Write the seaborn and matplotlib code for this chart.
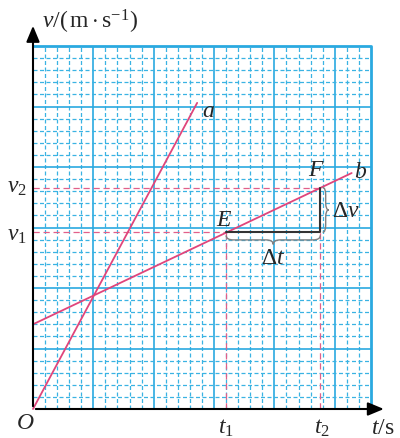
import numpy as np
import pandas as pd
import seaborn as sns
import matplotlib.pyplot as plt
from matplotlib.path import Path
from matplotlib.patches import PathPatch

# values in grid cells (1 cell = one small square)
a_t = [0, 13.6]
a_v = [0, 25.3]
b_t = [0, 26.4]
b_v = [7.0, 19.5]

t1, t2 = 16.0, 23.8
v1, v2 = 14.6, 18.3

grid_w, grid_h = 28, 30
major_step = 5

pink = '#e0457b'
pink_dash = '#e2608a'
cyan = '#2aa9e0'
cyan_minor = '#3ab3e3'

sns.set_style('white')
plt.rcParams['font.family'] = ['Liberation Serif', 'DejaVu Serif']
plt.rcParams['mathtext.fontset'] = 'custom'
plt.rcParams['mathtext.rm'] = 'Liberation Serif'
plt.rcParams['mathtext.it'] = 'Liberation Serif:italic'

fig = plt.figure(figsize=(4, 4.39), dpi=100)
ax = fig.add_axes([0, 0, 1, 1])
px, py = 12.07, 12.1  # pixels per cell
ax.set_xlim(-33 / px, (400 - 33) / px)
ax.set_ylim(-(439 - 410) / py, 410 / py)
ax.set_axis_off()

# grid paper
minor_ls = (0, (3.2, 2.0))
for i in range(1, grid_w):
    if i % major_step == 0:
        ax.vlines(i, 0, grid_h, color=cyan, lw=1.2, zorder=1)
    else:
        ax.vlines(i, 0, grid_h, color=cyan_minor, lw=0.9, linestyles=minor_ls, zorder=1)
for j in range(1, grid_h):
    if j % major_step == 0:
        ax.hlines(j, 0, grid_w, color=cyan, lw=1.2, zorder=1)
    else:
        ax.hlines(j, 0, grid_w, color=cyan_minor, lw=0.9, linestyles=minor_ls, zorder=1)
ax.plot([0, grid_w, grid_w], [grid_h, grid_h, 0], color=cyan, lw=2, zorder=1)

# helper dashed lines
dash_kw = dict(color=pink_dash, lw=0.9, ls=(0, (5, 3)), zorder=2)
ax.plot([0, t1], [v1, v1], **dash_kw)
ax.plot([0, t2], [v2, v2], **dash_kw)
ax.plot([t1, t1], [0, v1], **dash_kw)
ax.plot([t2, t2], [0, v2], **dash_kw)

# the two v-t lines
sns.lineplot(x=a_t, y=a_v, ax=ax, color=pink, lw=1.3, zorder=3)
sns.lineplot(x=b_t, y=b_v, ax=ax, color=pink, lw=1.3, zorder=3)

# right angle E -> corner -> F
ax.plot([t1, t2, t2], [v1, v1, v2], color='#333333', lw=1.5, zorder=3)


def brace(ax, start, end, offset, depth, vertical=False):
    s, e = start, end
    m = (s + e) / 2
    r = min(0.6, (e - s) / 6)
    d = depth
    pts = [(s, 0), (s, d / 2), (s + r, d / 2), (m - r, d / 2), (m, d / 2), (m, d),
           (m, d / 2), (m + r, d / 2), (e - r, d / 2), (e, d / 2), (e, 0)]
    codes = [Path.MOVETO, Path.CURVE3, Path.CURVE3, Path.LINETO, Path.CURVE3, Path.CURVE3,
             Path.CURVE3, Path.CURVE3, Path.LINETO, Path.CURVE3, Path.CURVE3]
    if vertical:
        verts = [(offset + w, u) for u, w in pts]
    else:
        verts = [(u, offset - w) for u, w in pts]
    ax.add_patch(PathPatch(Path(verts, codes), fill=False, edgecolor='#808080', lw=1.0, zorder=3))


brace(ax, t1, t2, v1 - 0.25, 0.75)
brace(ax, v1, v2, t2 + 0.2, 0.5, vertical=True)

# axes with arrows
ax.annotate('', xy=(29.3, 0), xytext=(0, 0),
            arrowprops=dict(arrowstyle='-|>,head_length=0.6,head_width=0.25', color='black',
                            lw=1.5, mutation_scale=16), zorder=4)
ax.annotate('', xy=(0, 31.9), xytext=(0, 0),
            arrowprops=dict(arrowstyle='-|>,head_length=0.6,head_width=0.25', color='black',
                            lw=1.5, mutation_scale=16), zorder=4)

fs = 17
txt = dict(fontsize=fs, ha='center', va='center', zorder=5)
ax.text(4.75, 32.1, r'$v/(\,\mathrm{m\cdot s^{-1}})$', **txt)
ax.text(29.0, -1.5, r'$t/\mathrm{s}$', **txt)
ax.text(-0.65, -1.1, r'$O$', **txt)
ax.text(t1, -1.5, r'$t_1$', **txt)
ax.text(t2 + 0.1, -1.5, r'$t_2$', **txt)
ax.text(-1.3, v1 - 0.2, r'$v_1$', **txt)
ax.text(-1.3, v2 + 0.1, r'$v_2$', **txt)
ax.text(14.5, 24.7, r'$a$', **txt)
ax.text(27.1, 19.6, r'$b$', **txt)
ax.text(15.8, 15.7, r'$E$', **txt)
ax.text(23.5, 19.8, r'$F$', **txt)
ax.text(19.9, 12.5, r'$\Delta t$', **txt)
ax.text(25.9, 16.4, r'$\Delta v$', **txt)

plt.savefig('out.png', dpi=100)
plt.close()
